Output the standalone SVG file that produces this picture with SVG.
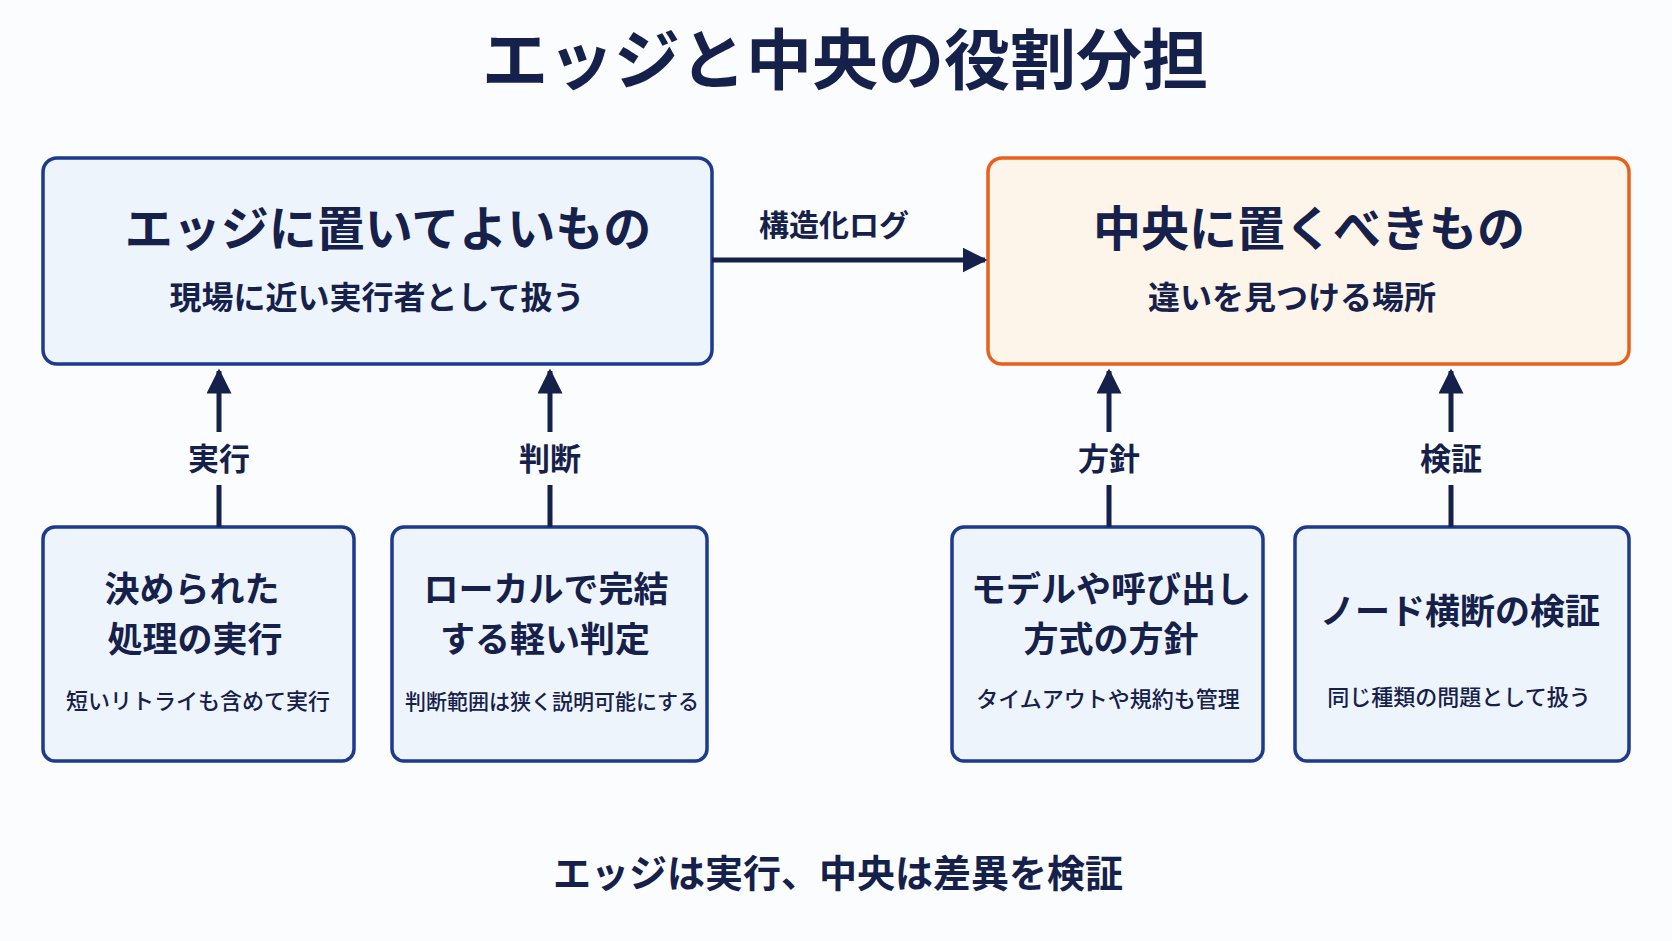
<svg xmlns="http://www.w3.org/2000/svg" width="1672" height="941" viewBox="0 0 1672 941">
<defs>
<marker id="ah" viewBox="0 0 10 10" refX="9" refY="5" markerWidth="5" markerHeight="5" orient="auto" markerUnits="strokeWidth"><path d="M0,0 L10,5 L0,10 z" fill="#15214a"/></marker>
<style>
text{font-family:"Noto Sans CJK JP","Noto Sans",sans-serif;fill:#15214a;text-anchor:middle}
.b{font-weight:700}
.box{fill:#eef4fc;stroke:#1d3a8c;stroke-width:3.5}
.org{fill:#fdf4ea;stroke:#e8601c;stroke-width:3.5}
.ln{stroke:#15214a;stroke-width:5;fill:none}
.s{font-size:22px;font-weight:500}
</style>
</defs>
<rect width="1672" height="941" fill="#fbfcfe"/>
<text class="b" x="845" y="84" font-size="66">エッジと中央の役割分担</text>
<g id="edge">
<rect class="box" x="43" y="158" width="669" height="206" rx="14"/>
<text class="b" x="388" y="246" font-size="48">エッジに置いてよいもの</text>
<text x="377" y="309" font-size="32" font-weight="600">現場に近い実行者として扱う</text>
</g>
<g id="center">
<rect class="org" x="988" y="158" width="641" height="206" rx="14"/>
<text class="b" x="1309" y="246" font-size="48">中央に置くべきもの</text>
<text x="1292" y="309" font-size="32" font-weight="600">違いを見つける場所</text>
</g>
<g id="b1">
<rect class="box" x="43" y="527" width="311" height="234" rx="12"/>
<text class="b" x="192" y="602" font-size="35">決められた</text>
<text class="b" x="195" y="652" font-size="35">処理の実行</text>
<text class="s" x="198" y="709">短いリトライも含めて実行</text>
</g>
<g id="b2">
<rect class="box" x="392" y="527" width="315" height="234" rx="12"/>
<text class="b" x="546" y="602" font-size="35">ローカルで完結</text>
<text class="b" x="545" y="652" font-size="35">する軽い判定</text>
<text class="s" x="552" y="709" style="font-size:21px">判断範囲は狭く説明可能にする</text>
</g>
<g id="b3">
<rect class="box" x="952" y="527" width="311" height="234" rx="12"/>
<text class="b" x="1111" y="602" font-size="35">モデルや呼び出し</text>
<text class="b" x="1111" y="652" font-size="35">方式の方針</text>
<text class="s" x="1108" y="707">タイムアウトや規約も管理</text>
</g>
<g id="b4">
<rect class="box" x="1295" y="527" width="334" height="234" rx="12"/>
<text class="b" x="1460" y="624" font-size="35">ノード横断の検証</text>
<text class="s" x="1459" y="705">同じ種類の問題として扱う</text>
</g>
<g id="connectors">
<line class="ln" x1="712" y1="260" x2="985" y2="260" marker-end="url(#ah)"/>
<text x="834" y="236" font-size="30" font-weight="600">構造化ログ</text>
<line class="ln" x1="219" y1="527" x2="219" y2="485"/>
<line class="ln" x1="219" y1="432" x2="219" y2="371" marker-end="url(#ah)"/>
<text class="b" x="219" y="470" font-size="31">実行</text>
<line class="ln" x1="550" y1="527" x2="550" y2="485"/>
<line class="ln" x1="550" y1="432" x2="550" y2="371" marker-end="url(#ah)"/>
<text class="b" x="550" y="470" font-size="31">判断</text>
<line class="ln" x1="1109" y1="527" x2="1109" y2="485"/>
<line class="ln" x1="1109" y1="432" x2="1109" y2="371" marker-end="url(#ah)"/>
<text class="b" x="1109" y="470" font-size="31">方針</text>
<line class="ln" x1="1451" y1="527" x2="1451" y2="485"/>
<line class="ln" x1="1451" y1="432" x2="1451" y2="371" marker-end="url(#ah)"/>
<text class="b" x="1451" y="470" font-size="31">検証</text>
</g>
<text class="b" x="838" y="887" font-size="38">エッジは実行、中央は差異を検証</text>
</svg>
